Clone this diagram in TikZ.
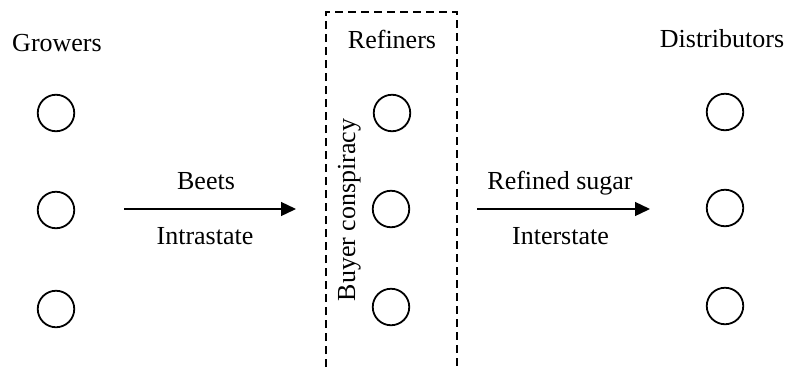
\documentclass[tikz,border=0pt]{standalone}
\usepackage{fontspec}
\setmainfont{Liberation Serif}
\usetikzlibrary{arrows.meta}
\begin{document}
\begin{tikzpicture}[x=1pt,y=-1pt,
  dot/.style={draw,circle,line width=1.8pt,minimum size=36.5pt,inner sep=0pt},
  lbl/.style={font=\fontsize{26}{30}\selectfont,anchor=base,inner sep=0pt},
  flow/.style={line width=1.3pt,-{Triangle[length=15pt,width=14pt]}},
  conspiracy/.style={line width=2pt,dash pattern=on 8pt off 5pt}]
\clip (0,0) rectangle (790,370);
\useasboundingbox (0,0) rectangle (790,370);
% column titles
\node[lbl] (tg) at (57,51) {Growers};
\node[lbl] (tr) at (392,48) {Refiners};
\node[lbl] (td) at (722,47) {Distributors};
% growers
\node[dot] (g1) at (56,113) {};
\node[dot] (g2) at (56,210) {};
\node[dot] (g3) at (56,309) {};
% refiners
\node[dot] (r1) at (392,113) {};
\node[dot] (r2) at (391,209) {};
\node[dot] (r3) at (391,307) {};
% distributors
\node[dot] (d1) at (725,112) {};
\node[dot] (d2) at (725,208) {};
\node[dot] (d3) at (725,306) {};
% conspiracy box
\coordinate (bl) at (326,380);
\coordinate (tl) at (326,12);
\coordinate (tr2) at (457,12);
\coordinate (br) at (457,380);
\draw[conspiracy] (bl) -- (tl) -- (tr2) -- (br);
\node[lbl,rotate=90] (bc) at (355,210) {Buyer conspiracy};
% flows
\coordinate (a1s) at (124,209);
\coordinate (a1e) at (296,209);
\coordinate (a2s) at (477,209);
\coordinate (a2e) at (650,209);
\draw[flow] (a1s) -- (a1e);
\draw[flow] (a2s) -- (a2e);
\node[lbl] (beets) at (206,189) {Beets};
\node[lbl] (intra) at (205,244) {Intrastate};
\node[lbl] (sugar) at (560,189) {Refined sugar};
\node[lbl] (inter) at (560.5,244) {Interstate};
\end{tikzpicture}
\end{document}
